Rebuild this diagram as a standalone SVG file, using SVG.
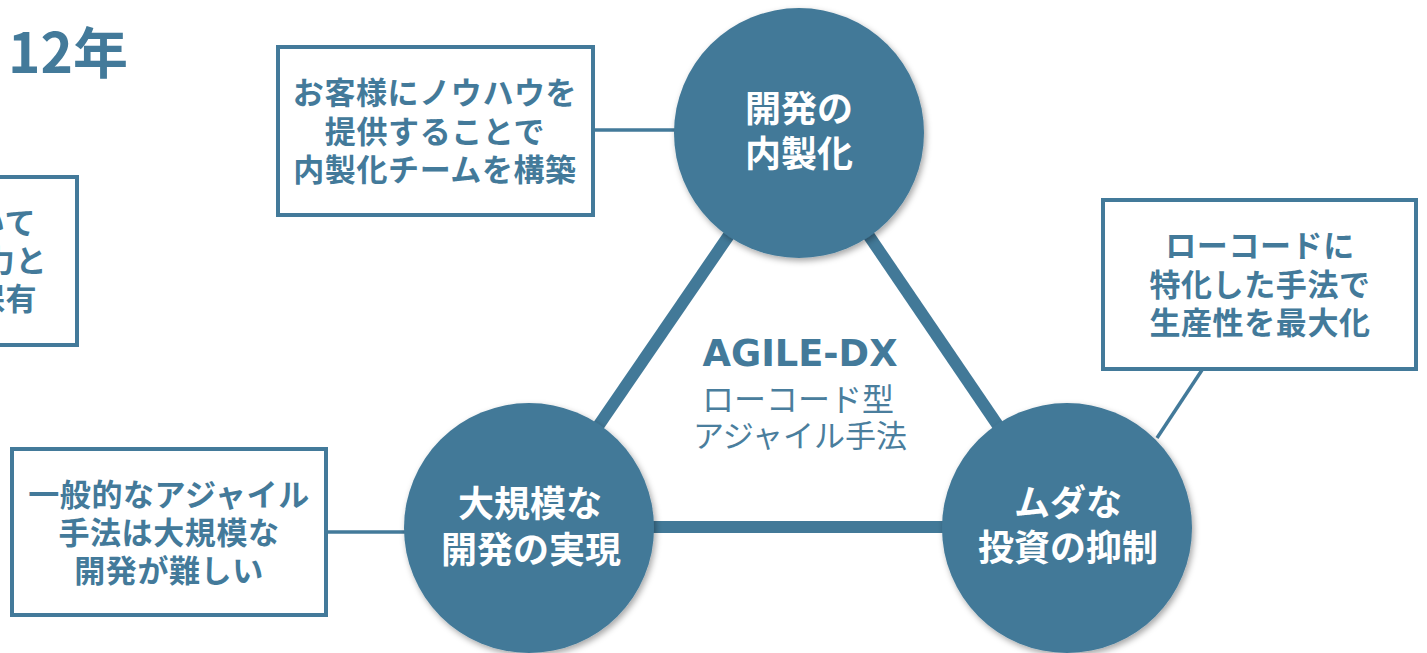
<svg xmlns="http://www.w3.org/2000/svg" width="1427" height="653" viewBox="0 0 1427 653">
<style>
.box{fill:#fff;stroke:#437a9a;stroke-width:4}
.btxt{font-family:"Noto Sans CJK JP","Noto Sans",sans-serif;font-weight:700;font-size:31px;fill:#437a9a;text-anchor:middle;dominant-baseline:central;letter-spacing:0.6px}
.ctxt{font-family:"Noto Sans CJK JP","Noto Sans",sans-serif;font-weight:700;font-size:36px;fill:#ffffff;text-anchor:middle;dominant-baseline:central}
.circ{fill:#427998;filter:url(#sh)}
.tri{stroke:#427998;stroke-width:12;fill:none}
.thin{stroke:#437a9a;stroke-width:3.5;fill:none}
</style>
<defs>
<filter id="sh" x="-20%" y="-20%" width="140%" height="140%">
<feDropShadow dx="2" dy="3" stdDeviation="3" flood-color="#000" flood-opacity="0.35"/>
</filter>
</defs>
<rect width="1427" height="653" fill="#fff"/>
<g id="title">
<text x="8" y="73" style="font-family:'Noto Sans CJK JP','Noto Sans',sans-serif;font-weight:700;font-size:55px;fill:#437a9a">12年</text>
</g>
<g id="connectors">
<line class="tri" x1="799" y1="133" x2="529" y2="527"/>
<line class="tri" x1="799" y1="133" x2="1067" y2="527"/>
<line class="tri" x1="529" y1="527" x2="1067" y2="527"/>
<line class="thin" x1="594" y1="130" x2="676" y2="130"/>
<line class="thin" x1="326" y1="532" x2="406" y2="532"/>
<line class="thin" x1="1202" y1="370" x2="1157" y2="438"/>
</g>
<g id="box-left-cut">
<rect class="box" x="-20" y="177" width="97" height="168"/>
<text class="btxt" x="36" y="220" style="text-anchor:end">いて</text>
<text class="btxt" x="47" y="258" style="text-anchor:end">力と</text>
<text class="btxt" x="37" y="296" style="text-anchor:end">保有</text>
</g>
<g id="box-top">
<rect class="box" x="278" y="47" width="315" height="168"/>
<text class="btxt" x="435" y="90">お客様にノウハウを</text>
<text class="btxt" x="435" y="129">提供することで</text>
<text class="btxt" x="435" y="167">内製化チームを構築</text>
</g>
<g id="box-left">
<rect class="box" x="12" y="449" width="314" height="166"/>
<text class="btxt" x="169" y="492">一般的なアジャイル</text>
<text class="btxt" x="169" y="530">手法は大規模な</text>
<text class="btxt" x="169" y="568">開発が難しい</text>
</g>
<g id="box-right">
<rect class="box" x="1103" y="200" width="313" height="169"/>
<text class="btxt" x="1260" y="243">ローコードに</text>
<text class="btxt" x="1260" y="282">特化した手法で</text>
<text class="btxt" x="1260" y="320">生産性を最大化</text>
</g>
<g id="center-label">
<text x="800" y="366" textLength="195" lengthAdjust="spacingAndGlyphs" style="font-family:'DejaVu Sans','Noto Sans',sans-serif;font-weight:700;font-size:37px;fill:#437a9a;text-anchor:middle">AGILE-DX</text>
<text x="798" y="397" style="font-family:'Noto Sans CJK JP','Noto Sans',sans-serif;font-weight:400;font-size:32px;fill:#4a7e9d;text-anchor:middle;dominant-baseline:central">ローコード型</text>
<text x="800" y="433" style="font-family:'Noto Sans CJK JP','Noto Sans',sans-serif;font-weight:400;font-size:31px;fill:#4a7e9d;text-anchor:middle;dominant-baseline:central">アジャイル手法</text>
</g>
<g id="node-top">
<circle class="circ" cx="799" cy="133" r="125"/>
<text class="ctxt" x="799" y="106">開発の</text>
<text class="ctxt" x="799" y="151">内製化</text>
</g>
<g id="node-left">
<circle class="circ" cx="529" cy="528" r="125"/>
<text class="ctxt" x="530" y="501">大規模な</text>
<text class="ctxt" x="531" y="547">開発の実現</text>
</g>
<g id="node-right">
<circle class="circ" cx="1067" cy="528" r="125"/>
<text class="ctxt" x="1068" y="500">ムダな</text>
<text class="ctxt" x="1068" y="545">投資の抑制</text>
</g>
</svg>
